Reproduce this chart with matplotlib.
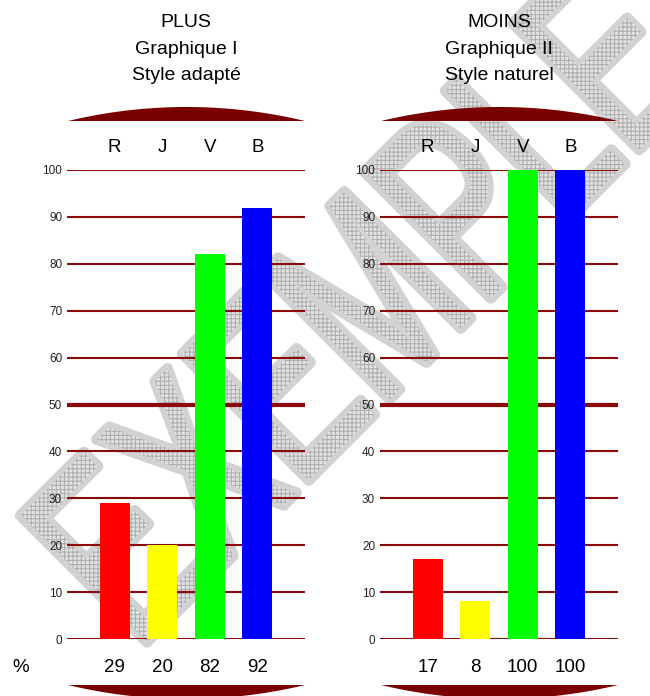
import numpy as np
import matplotlib
matplotlib.use("Agg")
import matplotlib.pyplot as plt
import matplotlib.patheffects as pe
from matplotlib.font_manager import FontProperties
from matplotlib.patches import PathPatch, Polygon
from matplotlib.textpath import TextPath
from matplotlib.transforms import Affine2D

plt.rcParams["font.family"] = ["Liberation Sans", "DejaVu Sans"]
plt.rcParams["hatch.linewidth"] = 0.8

# --- data -------------------------------------------------------------
letters = ["R", "J", "V", "B"]
bar_colors = ["#ff0000", "#ffff00", "#00ff00", "#0000ff"]
plus_values = [29, 20, 82, 92]
moins_values = [17, 8, 100, 100]
plus_title = ["PLUS", "Graphique I", "Style adapté"]
moins_title = ["MOINS", "Graphique II", "Style naturel"]
y_ticks = list(range(0, 101, 10))

W, H = 650, 696
GRID = "#8b0a0a"
CAP = "#7a0000"

fig = plt.figure(figsize=(W / 100, H / 100), dpi=100)

# background canvas in pixel coords (watermark + caps + titles)
bg = fig.add_axes([0, 0, 1, 1], zorder=0)
bg.set_xlim(0, W)
bg.set_ylim(H, 0)
bg.axis("off")

# "EXEMPLE" watermark: narrow, big, running bottom-left -> top-right
tp = TextPath((0, 0), "EXEMPLE", size=260, prop=FontProperties(family="Liberation Sans"))
tr = (Affine2D().scale(0.66, 1).rotate_deg(45)
      .scale(1, -1).translate(137, 652))
wm = PathPatch(tr.transform_path(tp), facecolor="#e2e2e2", edgecolor="#b0b0b0",
               hatch="++++", lw=0)
wm.set_path_effects([pe.Stroke(linewidth=8, foreground="#d2d2d2", joinstyle="round",
                               capstyle="round"), pe.Normal()])
bg.add_patch(wm)


def cap(x0, x1, y_flat, h, up=True):
    c = x1 - x0
    r = (c * c / 4 + h * h) / (2 * h)
    xs = np.linspace(-c / 2, c / 2, 80)
    ys = np.sqrt(r * r - xs ** 2) - (r - h)
    sign = -1 if up else 1
    pts = np.column_stack([xs + (x0 + x1) / 2, y_flat + sign * ys])
    bg.add_patch(Polygon(pts, closed=True, facecolor=CAP, edgecolor="none"))


def panel(x0, x1, values, title):
    ax = fig.add_axes([x0 / W, 1 - 639 / H, (x1 - x0) / W, (639 - 170) / H], zorder=2)
    ax.set_facecolor("none")
    pos = np.arange(1, len(values) + 1)
    ax.set_xlim(0, 5)
    ax.set_ylim(0, 100)
    for v in y_ticks:
        ax.axhline(v, color=GRID, lw=3.0 if v == 50 else 1.5, zorder=1)
    ax.bar(pos, values, width=0.63, color=bar_colors, zorder=3)
    ax.set_xticks([])
    ax.set_yticks(y_ticks)
    ax.tick_params(axis="y", length=0, pad=3.5, labelsize=8.5, labelcolor="#222222")
    for s in ax.spines.values():
        s.set_visible(False)
    for p, lab, v in zip(pos, letters, values):
        ax.text(p, 103.8, lab, ha="center", va="baseline", fontsize=13.5, clip_on=False)
        ax.text(p, -7.0, str(v), ha="center", va="baseline", fontsize=13.5, clip_on=False)
    cx = (x0 + x1) / 2
    for i, line in enumerate(title):
        bg.text(cx, 27 + i * 26.5, line, ha="center", va="baseline", fontsize=14)
    cap(x0 + 1, x1, 121, 14, up=True)
    cap(x0 + 1, x1, 685, 14, up=False)
    return ax


panel(67, 305, plus_values, plus_title)
panel(380, 618, moins_values, moins_title)
bg.text(12, 672, "%", ha="left", va="baseline", fontsize=13.5)

fig.savefig("out.png", dpi=100)
